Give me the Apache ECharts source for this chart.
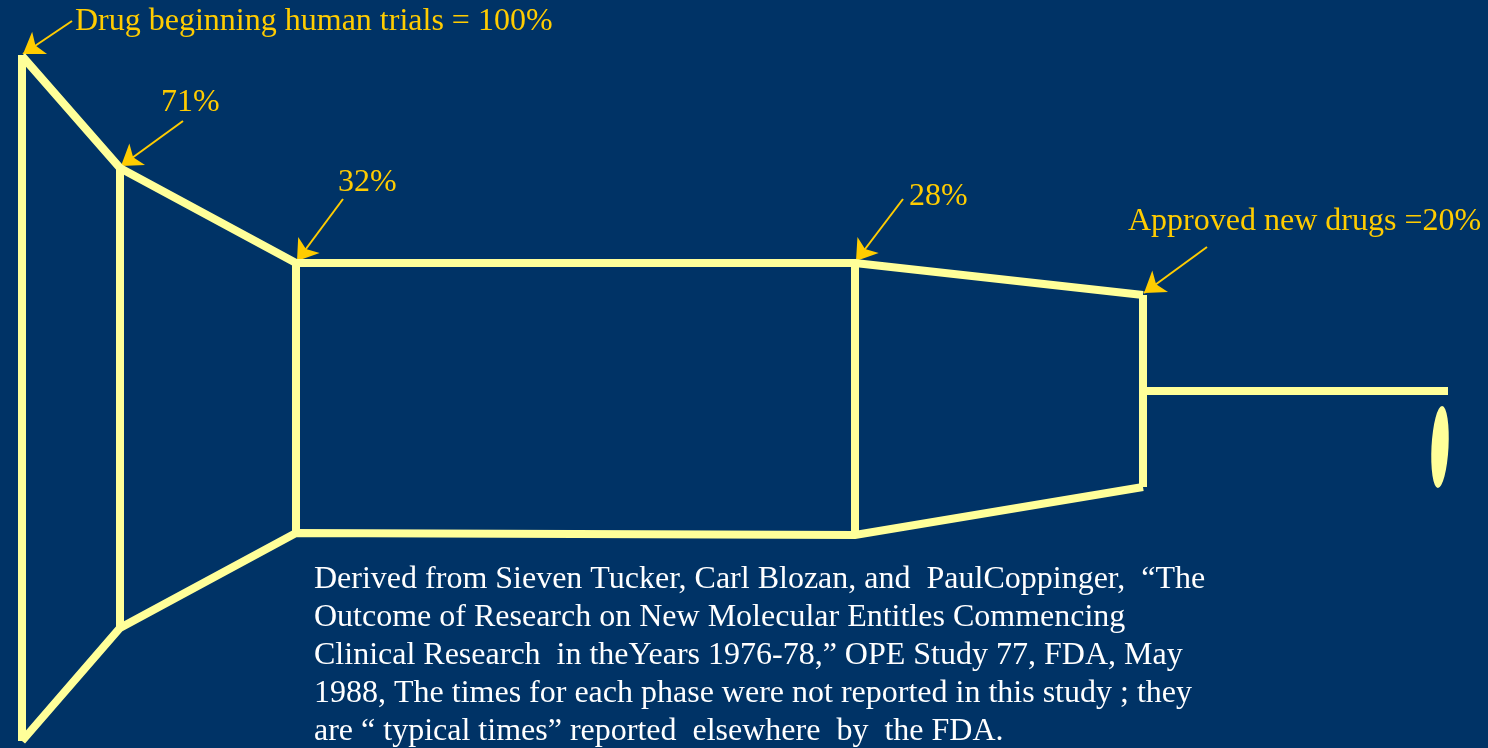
<!DOCTYPE html>
<html>
<head>
<meta charset="utf-8">
<script src="https://cdn.jsdelivr.net/npm/echarts@6/dist/echarts.min.js"></script>
<style>
html,body{margin:0;padding:0;background:#003366;}
#c{width:1488px;height:748px;}
</style>
</head>
<body>
<div id="c"></div>
<script>
// Stage positions along the "syringe" (diagram units)
const stageX = [22, 120, 296, 855, 1143];
const stageTop = [56, 168, 263, 263, 295];
const stageBottom = [741, 628, 533, 535, 487];
const stageLabels = ['Drug beginning human trials = 100%', '71%', '32%', '28%', 'Approved new drugs =20%'];
// label anchors (left edge, vertical centre) and arrow tails
const labelX = [75, 161, 338, 909, 1128];
const labelY = [22, 103, 183, 197, 222];
const arrowFromX = [72, 183, 343, 903, 1207];
const arrowFromY = [21, 121, 199, 199, 247];
// needle and drop
const needleY = 391;
const needleEndX = 1448;
const drop = [1440, 447];

const footnote = [
  'Derived from Sieven Tucker, Carl Blozan, and  PaulCoppinger,  \u201cThe',
  'Outcome of Research on New Molecular Entitles Commencing',
  'Clinical Research  in theYears 1976-78,\u201d OPE Study 77, FDA, May',
  '1988, The times for each phase were not reported in this study ; they',
  'are \u201c typical times\u201d reported  elsewhere  by  the FDA.'
];

const YELLOW = '#FFFF99';
const GOLD = '#FFCC00';
const lw = 8;

function lineSeries(data) {
  return {
    type: 'line', data: data, symbol: 'none', silent: true, animation: false,
    lineStyle: { color: YELLOW, width: lw, join: 'miter', cap: 'butt', opacity: 1 }
  };
}

const series = [];
// top outline
series.push(lineSeries(stageX.map((x, i) => [x, stageTop[i]])));
// bottom outline
series.push(lineSeries(stageX.map((x, i) => [x, stageBottom[i]])));
// vertical partitions
stageX.forEach((x, i) => {
  series.push(lineSeries([[x, stageTop[i] - (i === 0 ? 1 : 0)], [x, stageBottom[i]]]));
});
// needle
series.push(lineSeries([[stageX[4], needleY], [needleEndX, needleY]]));
// drop
series.push({
  type: 'scatter', data: [drop], symbol: 'circle', symbolSize: [17, 82], symbolRotate: -3,
  itemStyle: { color: YELLOW, opacity: 1 }, silent: true, animation: false
});
// arrows
series.push({
  type: 'lines', coordinateSystem: 'cartesian2d', silent: true, animation: false,
  symbol: ['none', 'arrow'], symbolSize: 20,
  lineStyle: { color: GOLD, width: 2, opacity: 1 },
  data: stageX.map((x, i) => ({ coords: [[arrowFromX[i], arrowFromY[i]], [x + 1, stageTop[i] - 2]] }))
});
// labels
series.push({
  type: 'scatter', symbolSize: 0, silent: true, animation: false,
  itemStyle: { opacity: 1 },
  data: stageLabels.map((t, i) => ({ value: [labelX[i], labelY[i]], name: t })),
  label: {
    show: true, position: [0, 0], align: 'left', verticalAlign: 'middle',
    formatter: p => p.name, color: GOLD, opacity: 1,
    fontFamily: '"Liberation Serif", "Times New Roman", serif', fontSize: 32
  }
});

const chart = echarts.init(document.getElementById('c'));
chart.setOption({
  backgroundColor: '#003366',
  animation: false,
  grid: { left: 0, right: 0, top: 0, bottom: 0 },
  xAxis: { type: 'value', min: 0, max: 1488, show: false },
  yAxis: { type: 'value', min: 0, max: 748, inverse: true, show: false },
  series: series,
  graphic: footnote.map((t, i) => ({
    type: 'text', left: 314, top: 564 + i * 38, silent: true,
    style: { text: t, fill: '#FFFFFF', font: '32px "Liberation Serif", "Times New Roman", serif' }
  }))
});
</script>
</body>
</html>
